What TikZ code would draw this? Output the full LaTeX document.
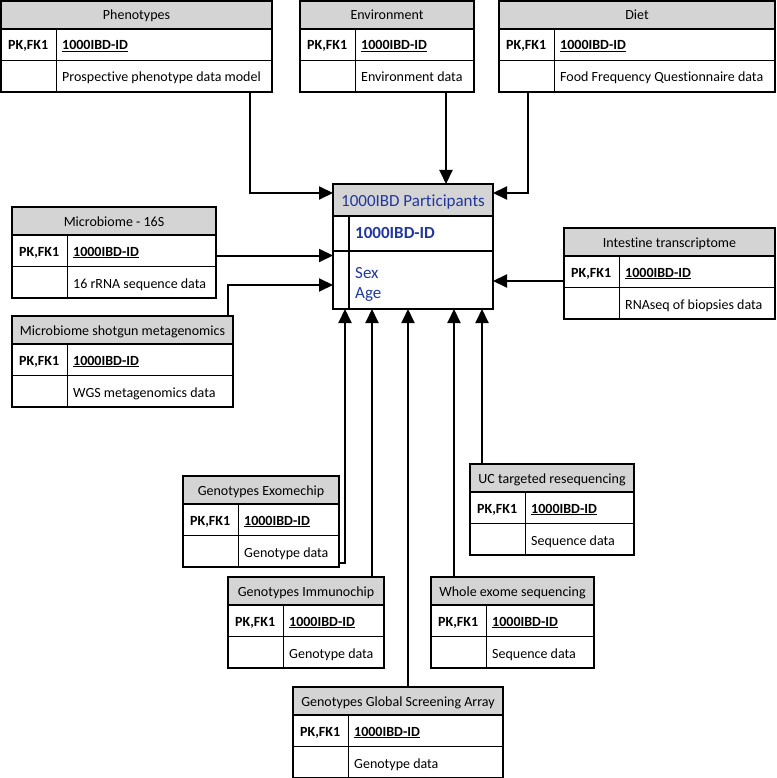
\documentclass[tikz,border=0pt]{standalone}
\usepackage{fontspec}
\setmainfont{Carlito}[Ligatures=NoCommon]
\usepackage{tikz}
\usetikzlibrary{arrows.meta}
\usetikzlibrary{positioning}
\definecolor{headgray}{RGB}{212,212,212}
\definecolor{partblue}{RGB}{33,55,158}
\tikzset{er-table/.style={inner sep=0, outer sep=0, minimum height=91pt}}
\tikzset{er-head/.style={fill=headgray}}
\tikzset{er-line/.style={line width=1.3pt}}
\tikzset{er-text/.style={inner sep=0, font=\fontsize{14}{16}\selectfont}}
\tikzset{part-text/.style={inner sep=0, font=\fontsize{17}{19}\selectfont, text=partblue}}
\tikzset{er-link/.style={line width=2pt, -{Triangle[length=14pt, width=13pt]}}}

\newcommand{\erentity}[4]{%
  \node[er-table, #1] (#2) {};
  \fill[er-head] (#2.north west) rectangle ([yshift=-28pt]#2.north east);
  \draw[er-line] ([yshift=-28pt]#2.north west) -- ([yshift=-28pt]#2.north east);
  \draw[er-line] ([yshift=-59.5pt]#2.north west) -- ([yshift=-59.5pt]#2.north east);
  \draw[er-line] ([xshift=55.5pt, yshift=-28pt]#2.north west) -- ([xshift=55.5pt]#2.south west);
  \draw[er-line] (#2.north west) rectangle (#2.south east);
  \node[er-text, anchor=base] (#2-title) at ([yshift=-19pt]#2.north) {#3};
  \node[er-text, anchor=base west] (#2-key) at ([xshift=7pt, yshift=-49pt]#2.north west) {\textbf{PK,FK1}};
  \node[er-text, anchor=base west] (#2-id) at ([xshift=61pt, yshift=-49pt]#2.north west) {\textbf{\underline{1000IBD-ID}}};
  \node[er-text, anchor=base west] (#2-data) at ([xshift=61pt, yshift=-81pt]#2.north west) {#4};
}

\begin{document}
\begin{tikzpicture}[x=1pt, y=-1pt]
            \useasboundingbox (0,0) rectangle (776,778);

            \node[inner sep=0, outer sep=0, minimum width=160pt, minimum height=125pt, anchor=north west] (participants) at (333,184) {};
            \fill[er-head] (participants.north west) rectangle ([yshift=-32pt]participants.north east);
            \draw[er-line] ([yshift=-32pt]participants.north west) -- ([yshift=-32pt]participants.north east);
            \draw[er-line] ([yshift=-67pt]participants.north west) -- ([yshift=-67pt]participants.north east);
            \draw[er-line] ([xshift=16pt, yshift=-32pt]participants.north west) -- ([xshift=16pt]participants.south west);
            \draw[er-line] (participants.north west) rectangle (participants.south east);
            \node[part-text, anchor=base] (participants-title) at ([yshift=-22pt]participants.north) {1000IBD Participants};
            \node[part-text, anchor=base west] (participants-id) at ([xshift=22pt, yshift=-54pt]participants.north west) {\textbf{1000IBD-ID}};
            \node[part-text, anchor=base west] (participants-sex) at ([xshift=22pt, yshift=-94pt]participants.north west) {Sex};
            \node[part-text, anchor=base west] (participants-age) at ([xshift=22pt, yshift=-114pt]participants.north west) {Age};

            \erentity{minimum width=271pt, anchor=north west, at={(1,1)}}{phenotypes}{Phenotypes}{Prospective phenotype data model}
            \erentity{minimum width=174pt, anchor=north west, at={(300,1)}}{environment}{Environment}{Environment data}
            \erentity{minimum width=276pt, anchor=north west, at={(499,1)}}{diet}{Diet}{Food Frequency Questionnaire data}

            \erentity{minimum width=204pt, anchor=north west, at={(12,207)}}{microbiome16s}{Microbiome - 16S}{16 rRNA sequence data}
            \erentity{minimum width=221pt, below right=18pt and 0pt of microbiome16s.south west}{shotgun}{Microbiome shotgun metagenomics}{WGS metagenomics data}
            \erentity{minimum width=211pt, anchor=north west, at={(564,228)}}{transcriptome}{Intestine transcriptome}{RNAseq of biopsies data}

            \erentity{minimum width=156pt, anchor=north west, at={(183,476)}}{exomechip}{Genotypes Exomechip}{Genotype data}
            \erentity{minimum width=156pt, below right=10pt and 45pt of exomechip.south west}{immunochip}{Genotypes Immunochip}{Genotype data}
            \erentity{minimum width=210pt, anchor=north west, at={(293,687)}}{gsa}{Genotypes Global Screening Array}{Genotype data}
            \erentity{minimum width=164pt, anchor=north west, at={(470,464)}}{ucseq}{UC targeted resequencing}{Sequence data}
            \erentity{minimum width=163pt, anchor=north west, at={(431,577)}}{wes}{Whole exome sequencing}{Sequence data}

            \draw[er-link] ([xshift=-22pt]phenotypes.south east) |- ([yshift=-9pt]participants.north west);
            \draw[er-link] ([xshift=-28pt]environment.south east) -- ([xshift=-28pt]environment.south east |- participants.north);
            \draw[er-link] ([xshift=29pt]diet.south west) |- ([yshift=-9pt]participants.north east);

            \draw[er-link] ([yshift=-3pt]microbiome16s.east) -- ([yshift=-3pt]microbiome16s.east -| participants.west);
            \draw[er-link] ([xshift=-5pt]shotgun.north east) |- ([yshift=24pt]participants.south west);
            \draw[er-link] ([yshift=-7.5pt]transcriptome.west) -- ([yshift=-7.5pt]transcriptome.west -| participants.east);

            \draw[er-link] ([yshift=4pt]exomechip.south east) -| ([xshift=12pt]participants.south west);
            \draw[er-link] ([xshift=-12pt]immunochip.north east) -- ([xshift=-12pt]immunochip.north east |- participants.south);
            \draw[er-link] ([xshift=10pt]gsa.north) -- ([xshift=10pt]gsa.north |- participants.south);
            \draw[er-link] ([xshift=23pt]wes.north west) -- ([xshift=23pt]wes.north west |- participants.south);
            \draw[er-link] ([xshift=12pt]ucseq.north west) -- ([xshift=12pt]ucseq.north west |- participants.south);

        \end{tikzpicture}
\end{document}
